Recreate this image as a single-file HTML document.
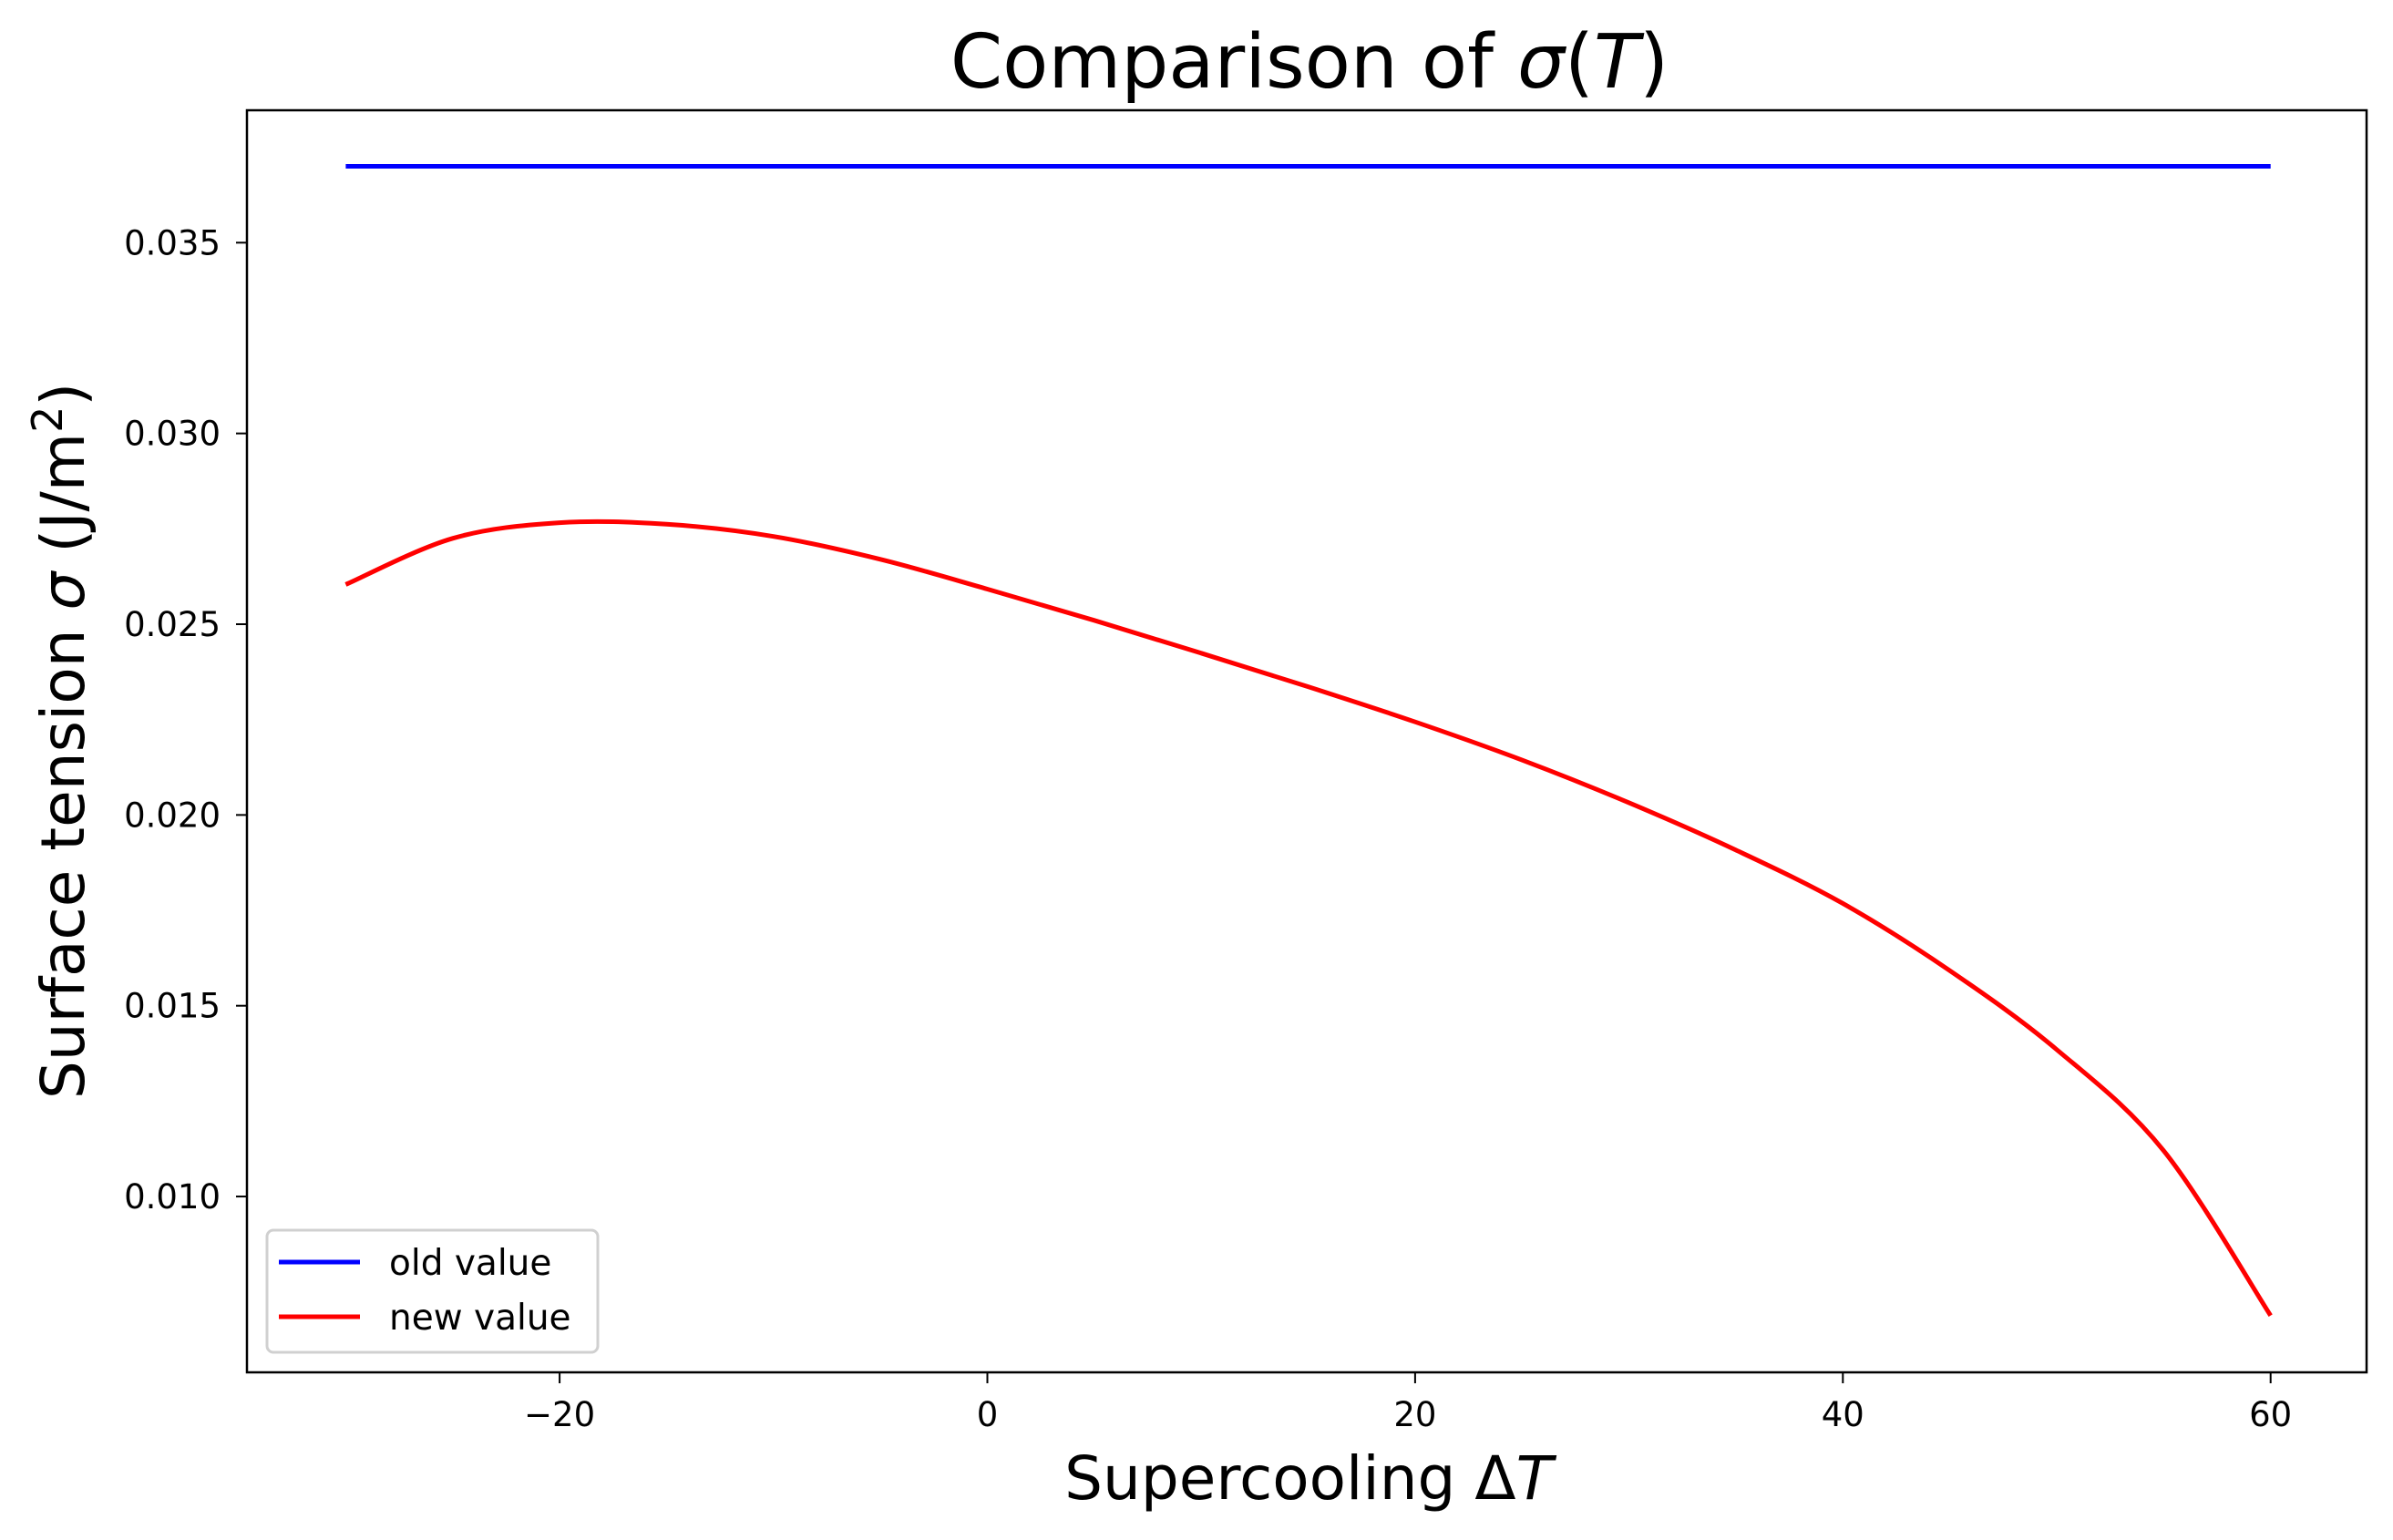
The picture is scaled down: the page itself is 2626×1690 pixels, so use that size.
<!DOCTYPE html>
<html><head><meta charset="utf-8"><style>
html,body{margin:0;padding:0;background:#fff;}
svg{display:block;font-family:"DejaVu Sans","Liberation Sans",sans-serif;}
</style></head><body>
<svg id="chart" width="2626" height="1690" viewBox="0 0 2626 1690" xmlns="http://www.w3.org/2000/svg">
<rect width="2626" height="1690" fill="#fff"/>
<text x="1437" y="96" font-size="82" text-anchor="middle">Comparison of <tspan font-style="italic">σ</tspan>(<tspan font-style="italic">T</tspan>)</text>
<g id="plot"></g>
<text x="1436" y="1645" font-size="66" text-anchor="middle">Supercooling Δ<tspan font-style="italic">T</tspan></text>
<text transform="translate(92,813) rotate(-90)" font-size="66" text-anchor="middle">Surface tension <tspan font-style="italic">σ</tspan> (J/m<tspan dy="-24" font-size="46">2</tspan><tspan dy="24">)</tspan></text>
<g>
<rect x="293" y="1350" width="363" height="134" rx="7" fill="#fff" stroke="#d0d0d0" stroke-width="3"/>
<line x1="306" y1="1385" x2="395" y2="1385" stroke="#0000ff" stroke-width="5"/>
<text x="427" y="1399" font-size="39">old value</text>
<line x1="306" y1="1445" x2="395" y2="1445" stroke="#ff0000" stroke-width="5"/>
<text x="427" y="1459" font-size="39">new value</text>
</g>
</svg>
<script>
const xTicks = [-20, 0, 20, 40, 60];
const yTicks = [0.010, 0.015, 0.020, 0.025, 0.030, 0.035];
const yTickLabels = ["0.010","0.015","0.020","0.025","0.030","0.035"];
const xValues = [-30,-25,-20,-15,-10,-5,0,5,10,15,20,25,30,35,40,45,50,55,60];
const newValues = [0.02604,0.02725,0.02766,0.02762,0.02730,0.02670,0.02592,0.02510,0.02424,0.02336,0.02244,0.02144,0.02032,0.01908,0.01768,0.01592,0.01385,0.01120,0.00688];
const oldX = [-30, 60];
const oldValues = [0.0370, 0.0370];

const L=271,R=2597,T=121,B=1506;
function sx(v){return 1083.5+v*23.47;}
function sy(v){return 266.3+(0.035-v)*41870;}
const NS="http://www.w3.org/2000/svg";
const g=document.getElementById('plot');
function el(t,a){const e=document.createElementNS(NS,t);for(const k in a)e.setAttribute(k,a[k]);g.appendChild(e);return e;}

xTicks.forEach(v=>{
  const t=el('line',{x1:sx(v),y1:B,x2:sx(v),y2:B+12,stroke:'#000','stroke-width':2});
  
  
  const l=el('text',{x:sx(v),y:1565,'font-size':37,'text-anchor':'middle'});
  l.textContent=(v<0?'−'+(-v):String(v));
  
  
});
yTicks.forEach((v,i)=>{
  const t=el('line',{x1:L-12,y1:sy(v),x2:L,y2:sy(v),stroke:'#000','stroke-width':2});
  
  
  const l=el('text',{x:242,y:sy(v)+13,'font-size':37,'text-anchor':'end'});
  l.textContent=yTickLabels[i];
  
  
});

function smooth(xs,ys){
  const p=xs.map((x,i)=>[sx(x),sy(ys[i])]);
  let d='M'+p[0][0]+','+p[0][1];
  for(let i=0;i<p.length-1;i++){
    const p0=p[Math.max(0,i-1)],p1=p[i],p2=p[i+1],p3=p[Math.min(p.length-1,i+2)];
    const c1=[p1[0]+(p2[0]-p0[0])/6,p1[1]+(p2[1]-p0[1])/6];
    const c2=[p2[0]-(p3[0]-p1[0])/6,p2[1]-(p3[1]-p1[1])/6];
    d+=' C'+c1+' '+c2+' '+p2;
  }
  return d;
}
const oldLine=el('path',{d:smooth(oldX,oldValues),fill:'none',stroke:'#0000ff','stroke-width':5});


const newLine=el('path',{d:smooth(xValues,newValues),fill:'none',stroke:'#ff0000','stroke-width':5});


const frame=el('rect',{x:L,y:T,width:R-L,height:B-T,fill:'none',stroke:'#000','stroke-width':2.5});


</script>
</body></html>
